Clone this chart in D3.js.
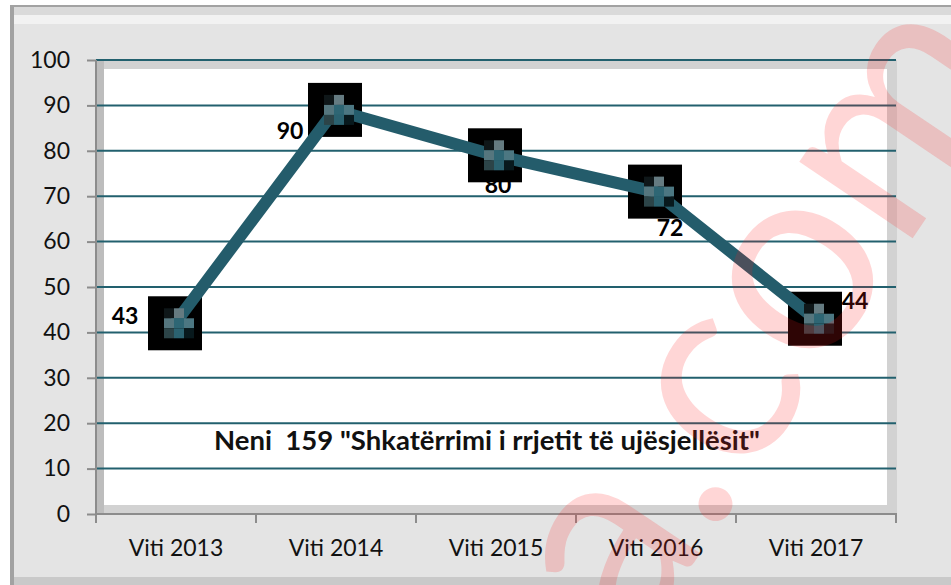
<!DOCTYPE html>
<html>
<head>
<meta charset="utf-8">
<script src="https://cdn.jsdelivr.net/npm/d3@7"></script>
<style>
  body { margin: 0; background: #fff; }
  svg { display: block; font-family: Lato, "Open Sans", sans-serif; }
</style>
</head>
<body>
<div id="chart"></div>
<script>
const years = ["Viti 2013", "Viti 2014", "Viti 2015", "Viti 2016", "Viti 2017"];
const values = [43, 90, 80, 72, 44];
const yTicks = [0, 10, 20, 30, 40, 50, 60, 70, 80, 90, 100];
const title = 'Neni  159 "Shkatërrimi i rrjetit të ujësjellësit"';

// where each value label sits relative to its marker
const labelShift = [[-50, -8], [-45, 20], [3, 29], [15, 35], [40, -19]];

const W = 951, H = 585;
const pL = 96, pR = 896, pT = 60, pB = 514;
const lineColor = "#245c6b";
const gridColor = "#22606e";
const axisColor = "#8c8c8c";

const svg = d3.select("#chart").append("svg")
  .attr("width", W).attr("height", H);

// frame
svg.append("rect").attr("x", 10).attr("y", 5).attr("width", W).attr("height", H).attr("fill", "#a2a2a2");
svg.append("rect").attr("x", 14).attr("y", 7).attr("width", W).attr("height", H).attr("fill", "#e4e4e4");
svg.append("rect").attr("x", 14).attr("y", 7).attr("width", W).attr("height", 8).attr("fill", "#dadada");
svg.append("rect").attr("x", 14).attr("y", 15).attr("width", W).attr("height", 9).attr("fill", "#f2f2f2");
svg.append("rect").attr("x", 14).attr("y", 577).attr("width", W).attr("height", 8).attr("fill", "#c9c9c9");

// scales
const x = d3.scaleBand().domain(years).range([pL, pR]);
const y = d3.scaleLinear().domain([0, 100]).range([pB, pT]);

// plot wall
svg.append("rect").attr("x", pL).attr("y", pT).attr("width", pR - pL + 1).attr("height", pB - pT)
  .attr("fill", "#d2d2d2");
svg.append("rect").attr("x", pL).attr("y", pT).attr("width", 8).attr("height", pB - pT)
  .attr("fill", "#bdbdbd");
svg.append("rect").attr("x", pL + 8).attr("y", pT + 9).attr("width", pR - pL - 17).attr("height", pB - pT - 18)
  .attr("fill", "#fff");

// grid lines
svg.append("g").selectAll("line")
  .data(yTicks.filter(d => d > 0))
  .join("line")
  .attr("x1", pL).attr("x2", pR)
  .attr("y1", d => y(d)).attr("y2", d => y(d))
  .attr("stroke", gridColor).attr("stroke-width", 2);

// Y axis
svg.append("g")
  .attr("transform", `translate(${pL},0)`)
  .call(d3.axisLeft(y).tickValues(yTicks).tickSize(9).tickPadding(17))
  .call(g => {
    g.select(".domain").attr("stroke", axisColor).attr("stroke-width", 2).attr("d", `M0,${pT}V${pB + 1}`);
    g.selectAll("line").attr("stroke", axisColor).attr("stroke-width", 2);
    g.selectAll("text").attr("font-size", 23).attr("fill", "#111").attr("font-family", "Lato");
  });

// X axis
svg.append("line").attr("x1", pL).attr("x2", pR + 1).attr("y1", pB).attr("y2", pB)
  .attr("stroke", axisColor).attr("stroke-width", 2);
const edges = years.map(d => x(d)).concat([x(years[years.length - 1]) + x.bandwidth()]);
svg.append("g").selectAll("line")
  .data(edges)
  .join("line")
  .attr("x1", d => d).attr("x2", d => d)
  .attr("y1", pB).attr("y2", pB + 9)
  .attr("stroke", axisColor).attr("stroke-width", 2);

svg.append("g")
  .attr("transform", `translate(0,${pB})`)
  .call(d3.axisBottom(x).tickSize(0).tickPadding(26))
  .call(g => {
    g.select(".domain").remove();
    g.selectAll("text").attr("font-size", 23).attr("fill", "#111").attr("font-family", "Lato");
  });

// chart caption inside the plot
const cap = svg.append("text")
  .attr("x", 487).attr("y", 450)
  .attr("text-anchor", "middle")
  .attr("font-weight", "bold")
  .attr("font-size", 22)
  .attr("fill", "#111")
  .style("white-space", "pre")
  .text(title);
const capW = cap.node().getComputedTextLength();
cap.attr("font-size", 22 * 546 / capW);

// series
const series = svg.append("g").attr("transform", "translate(-1,4.5)");
const pts = values.map((v, i) => [x(years[i]) + x.bandwidth() / 2, y(v)]);

series.selectAll("text")
  .data(values)
  .join("text")
  .attr("x", (d, i) => pts[i][0] + labelShift[i][0])
  .attr("y", (d, i) => pts[i][1] + labelShift[i][1])
  .attr("text-anchor", "middle")
  .attr("dominant-baseline", "central")
  .attr("font-weight", "bold")
  .attr("font-size", 23)
  .attr("fill", "#000")
  .text(d => d);

series.selectAll("rect.mk")
  .data(pts)
  .join("rect")
  .attr("class", "mk")
  .attr("x", d => d[0] - 27).attr("y", d => d[1] - 27)
  .attr("width", 54).attr("height", 54)
  .attr("fill", "#000");

series.append("path")
  .datum(values)
  .attr("fill", "none")
  .attr("stroke", lineColor)
  .attr("stroke-width", 12)
  .attr("stroke-linejoin", "round")
  .attr("d", d3.line().x((d, i) => x(years[i]) + x.bandwidth() / 2).y(d => y(d)));

// pixelated cross in each marker
const blocks = [
  [-1, -1, "#0f1719"], [0, -1, "#657b81"],
  [-1, 0, "#55767e"], [0, 0, "#2e6674"], [1, 0, "#4c7782"],
  [-1, 1, "#2c4448"], [0, 1, "#2b6270"], [1, 1, "#08191d"]
];
pts.forEach(p => {
  series.append("g").selectAll("rect")
    .data(blocks)
    .join("rect")
    .attr("x", b => p[0] - 1 + b[0] * 10)
    .attr("y", b => p[1] - 5 + b[1] * 10)
    .attr("width", 10).attr("height", 10)
    .attr("fill", b => b[2]);
});

// watermark
svg.append("text")
  .attr("transform", "translate(635,650) rotate(-56)")
  .attr("font-size", 270)
  .attr("font-family", "Lato")
  .attr("fill", "#ff1a1a")
  .attr("fill-opacity", 0.18)
  .text("a.com");
</script>
</body>
</html>
